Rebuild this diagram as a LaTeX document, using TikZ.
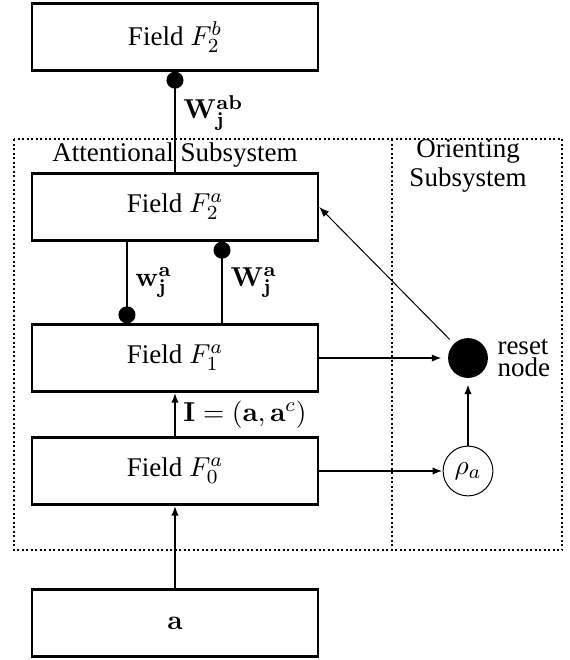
\documentclass[tikz,border=0pt]{standalone}
\usepackage[no-math]{fontspec}
\setmainfont{Liberation Serif}
\usetikzlibrary{arrows.meta,positioning}

\begin{document}
\begin{tikzpicture}[>={Latex[length=4pt,width=3pt]},font=\fontsize{10.8pt}{13pt}\selectfont,x=1.000cm,y=1.000cm,
 field/.style={draw,line width=1pt,minimum width=4.02cm,minimum height=0.94cm,inner sep=0pt},
 resetdot/.style={circle,fill=black,minimum size=0.56cm,inner sep=0pt,outer sep=2.5pt},
 vig/.style={draw,thin,circle,minimum size=0.70cm,inner sep=0pt},
 sub/.style={align=center,inner sep=0pt},
 conn/.style={line width=0.8pt},
 frame/.style={densely dotted,line width=0.8pt},
 lab/.style={right,inner sep=3pt}]
\useasboundingbox (0.000,0.000) rectangle (7.999,-9.278);
\node[field] (f2b) at (2.460,-0.520) {Field $F_2^b$};
\node[field] (f2a) at (2.460,-2.910) {Field $F_2^a$};
\node[field] (f1a) at (2.460,-5.033) {Field $F_1^a$};
\node[field] (f0a) at (2.460,-6.621) {Field $F_0^a$};
\node[field] (inp) at (2.460,-8.758) {$\mathbf{a}$};
\node[resetdot] (reset) at (6.579,-5.033) {};
\node[vig] (rho) at (6.579,-6.621) {$\rho_a$};
\node[sub,align=left,right=0.04cm of reset] (resetlab) {reset\\[-4pt]node};
\node[sub] (att) at (2.460,-2.179) {Attentional Subsystem};
\node[sub] (ori) at (6.579,-2.334) {Orienting\\[-1.6pt]Subsystem};
\coordinate (fnw) at (0.197,-1.954);
\coordinate (fse) at (7.901,-7.732);
\coordinate (fdn) at (5.511,-1.954);
\coordinate (fds) at (5.511,-7.732);
\draw[frame] (fnw) rectangle (fse);
\draw[frame] (fdn) -- (fds);
\draw[conn,{Circle[length=6.8pt]}-] (f2b) -- node[lab,pos=0.41] {$\mathbf{W_j^{ab}}$} (f2a);
\draw[conn,-{Circle[length=6.8pt]}] ([xshift=-0.675cm]f2a.south) -- node[lab,midway] {$\mathbf{w_j^a}$} ([xshift=-0.675cm]f1a.north);
\draw[conn,{Circle[length=6.8pt]}-] ([xshift=0.661cm]f2a.south) -- node[lab,midway] {$\mathbf{W_j^a}$} ([xshift=0.661cm]f1a.north);
\draw[conn,->] (f0a) -- node[lab,midway] {$\mathbf{I}=(\mathbf{a},\mathbf{a}^c)$} (f1a);
\draw[conn,->] (inp) -- (f0a);
\draw[conn,->] (f0a) -- (rho);
\draw[conn,->] (f1a) -- (reset);
\draw[conn,->] (rho) -- (reset);
\draw[thin,->] (reset) -- (f2a.east);
\end{tikzpicture}
\end{document}
